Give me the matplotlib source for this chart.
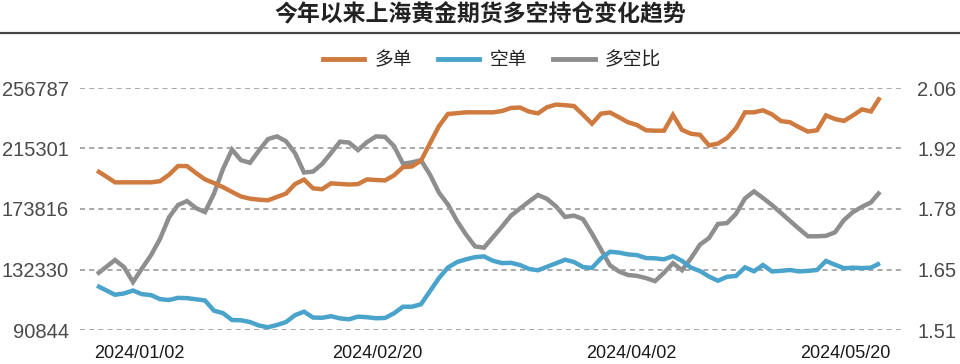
import matplotlib
matplotlib.use("Agg")
import matplotlib.pyplot as plt
from matplotlib.lines import Line2D
import numpy as np

plt.rcParams['font.family'] = ['Noto Sans CJK SC', 'DejaVu Sans']

title = "今年以来上海黄金期货多空持仓变化趋势"
series_names = ["多单", "空单", "多空比"]

# 多单 / 空单 (手), 多空比 -- one value per trading day
long_vals = [200100, 196200, 192100, 192100, 192100, 192100, 192100, 192900, 197300, 203300,
             203200, 198500, 194100, 191600, 188800, 185500, 182400, 180900, 180200, 179800,
             182100, 184400, 190900, 194000, 188000, 187400, 191400, 191000, 190600, 190900,
             194100, 193700, 193400, 196900, 202500, 203000, 206900, 218900, 230700, 239000,
             239500, 240100, 240100, 240100, 240100, 241000, 243100, 243400, 240600, 239400,
             243600, 245400, 245000, 244400, 238500, 232300, 239200, 240000, 236700, 233300,
             231400, 227800, 227500, 227500, 238300, 228100, 225400, 224700, 217400, 218700,
             222500, 229200, 240100, 240100, 241500, 238700, 234100, 233300, 229900, 226900,
             227800, 238000, 235500, 234200, 238000, 242100, 240700, 250300]
short_vals = [121200, 118100, 115000, 115900, 117900, 115400, 114800, 112000, 111400, 112900,
              112700, 111900, 111100, 104100, 102400, 97700, 97500, 96300, 93900, 92700,
              94300, 96300, 101000, 103400, 99400, 99200, 100300, 98800, 98200, 100000,
              99600, 98900, 99100, 102300, 106800, 106800, 108500, 117500, 126500, 133700,
              137400, 139300, 140800, 141300, 138300, 136700, 136900, 135400, 132700, 131800,
              134200, 136600, 139000, 137500, 134000, 133400, 140000, 144500, 143900, 142700,
              142200, 140200, 140000, 139300, 141500, 138200, 133600, 131300, 127500, 124600,
              127300, 127900, 133800, 131100, 135400, 131000, 131400, 132000, 131000, 131400,
              132000, 138200, 135600, 133200, 133600, 133300, 133600, 136600]
ratio_vals = [1.637, 1.653, 1.669, 1.653, 1.619, 1.650, 1.680, 1.717, 1.766, 1.794,
              1.803, 1.787, 1.778, 1.820, 1.876, 1.920, 1.896, 1.890, 1.918, 1.944,
              1.950, 1.939, 1.912, 1.868, 1.870, 1.887, 1.912, 1.938, 1.936, 1.919,
              1.937, 1.950, 1.949, 1.928, 1.888, 1.891, 1.896, 1.863, 1.822, 1.795,
              1.758, 1.727, 1.700, 1.697, 1.721, 1.745, 1.770, 1.786, 1.802, 1.817,
              1.808, 1.791, 1.767, 1.770, 1.762, 1.729, 1.693, 1.657, 1.643, 1.635,
              1.633, 1.628, 1.621, 1.640, 1.662, 1.646, 1.673, 1.704, 1.719, 1.751,
              1.753, 1.774, 1.809, 1.825, 1.810, 1.794, 1.776, 1.758, 1.740, 1.723,
              1.723, 1.724, 1.732, 1.760, 1.778, 1.790, 1.800, 1.824]

date_labels = ["2024/01/02", "2024/02/20", "2024/04/02", "2024/05/20"]
date_pos = [4.7, 31.1, 59.4, 83.1]

left_lim = (90844, 256787)
right_lim = (1.51, 2.06)
left_labels = ["90844", "132330", "173816", "215301", "256787"]
right_labels = ["1.51", "1.65", "1.78", "1.92", "2.06"]

colors = ["#CF7B3F", "#4AA3CA", "#8E8E8E"]

fig = plt.figure(figsize=(9.6, 3.64), dpi=100)
ax = fig.add_axes([80 / 960, 34 / 364, 825 / 960, 242 / 364])
ax2 = ax.twinx()

x = np.arange(len(long_vals))
kw = dict(lw=3.2, solid_joinstyle='miter', solid_capstyle='butt', clip_on=False)
ax.plot(x, long_vals, color=colors[0], label=series_names[0], zorder=3, **kw)
ax.plot(x, short_vals, color=colors[1], label=series_names[1], zorder=3, **kw)
ax2.plot(x, ratio_vals, color=colors[2], label=series_names[2], zorder=2, **kw)

ax.set_xlim(-1.89, 89.78)
ax.set_ylim(*left_lim)
ax2.set_ylim(*right_lim)

ax.set_yticks(np.linspace(*left_lim, 5))
ax.set_yticklabels(left_labels, fontfamily='Liberation Sans', fontsize=14.5, color='#4a4a4a')
ax2.set_yticks(np.linspace(*right_lim, 5))
ax2.set_yticklabels(right_labels, fontfamily='Liberation Sans', fontsize=14.5, color='#4a4a4a')
ax.set_xticks(date_pos)
ax.set_xticklabels(date_labels, fontfamily='Liberation Sans', fontsize=13,
                   color='#1a1a1a')

ax.tick_params(axis='y', length=0, pad=8)
ax2.tick_params(axis='y', length=0, pad=9)
ax.tick_params(axis='x', length=0, pad=11)

ax.grid(axis='y', color='#9a9a9a', lw=1.2, ls=(0, (3, 2.5)))
ax.grid(axis='x', visible=False)
ax.set_axisbelow(True)
for a in (ax, ax2):
    for s in a.spines.values():
        s.set_visible(False)
ax2.set_zorder(ax.get_zorder() - 1)
ax.patch.set_visible(False)

# title + rule
fig.text(0.5, 1 - 15 / 364, title, ha='center', va='center', fontsize=16.5,
         fontweight='bold', color='#222222')
fig.add_artist(Line2D([0, 1], [1 - 33 / 364] * 2, color='#444444', lw=1.6))

handles = [Line2D([], [], color=c, lw=3.5) for c in colors]
fig.legend(handles, series_names, loc='center', bbox_to_anchor=(492 / 960, 1 - 60 / 364),
           ncol=3, frameon=False, fontsize=13.5, handlelength=2.2, handletextpad=0.55,
           columnspacing=1.4, labelcolor='#222222')

fig.savefig("out.png", dpi=100)
